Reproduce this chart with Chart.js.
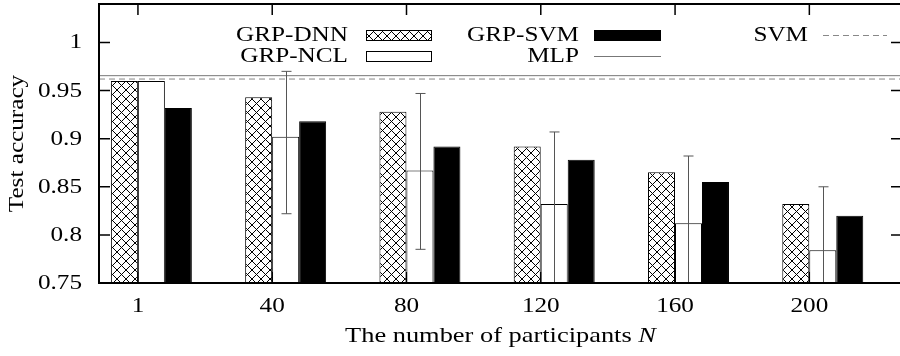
<!DOCTYPE html>
<html>
<head>
<meta charset="utf-8">
<script src="https://cdn.jsdelivr.net/npm/chart.js@4"></script>
<style>
  html, body { margin: 0; padding: 0; background: #fff; overflow: hidden; }
  #wrap { width: 900px; height: 356px; overflow: hidden; }
</style>
</head>
<body>
<div id="wrap"><canvas id="chart" width="904" height="356"></canvas></div>
<script>
// values
const participants = ['1', '40', '80', '120', '160', '200'];
const grpDnn = [0.960, 0.943, 0.928, 0.892, 0.865, 0.832];
const grpNcl = [0.960, 0.902, 0.867, 0.832, 0.812, 0.784];
const grpNclHigh = [0.960, 0.970, 0.947, 0.907, 0.882, 0.850];
const grpNclLow = [0.960, 0.822, 0.785, 0.745, 0.745, 0.745];
const grpSvm = [0.932, 0.918, 0.892, 0.878, 0.855, 0.820];
const mlpAcc = 0.9655;
const svmAcc = 0.962;
const yTicks = [0.75, 0.8, 0.85, 0.9, 0.95, 1];

const X_MIN = -0.29, X_MAX = 5.69;
const GROUP_SHIFT = 0.1;
const FONT = '"Liberation Serif", "Times New Roman", serif';
const SX = 1.2;      // the figure's lettering is wide
const TICK = 11;

function hatch() {
  const c = document.createElement('canvas');
  c.width = 9; c.height = 9;
  const g = c.getContext('2d');
  g.fillStyle = '#fff';
  g.fillRect(0, 0, 9, 9);
  g.strokeStyle = '#000';
  g.lineWidth = 1;
  g.beginPath();
  g.moveTo(-1, -1); g.lineTo(10, 10);
  g.moveTo(10, -1); g.lineTo(-1, 10);
  g.stroke();
  return g.createPattern(c, 'repeat');
}

const points = vals => vals.map((v, i) => ({ x: i + GROUP_SHIFT, y: v }));
const flat = v => [{ x: X_MIN, y: v }, { x: X_MAX, y: v }];

function font(size, italic) {
  return (italic ? 'italic ' : '') + size + 'px ' + FONT;
}

function drawText(ctx, text, x, y, opts) {
  const { align = 'center', size = 21, italic = false, rotate = 0 } = opts || {};
  ctx.save();
  ctx.translate(x, y);
  if (rotate) ctx.rotate(rotate);
  ctx.scale(SX, 1);
  ctx.font = font(size, italic);
  ctx.textAlign = align;
  ctx.textBaseline = 'alphabetic';
  ctx.fillStyle = '#000';
  ctx.fillText(text, 0, 0);
  ctx.restore();
}

// inward ticks + frame, gnuplot style
const framePlugin = {
  id: 'frame',
  beforeDatasetsDraw(chart) {
    const { ctx, chartArea: a, scales: { x, y } } = chart;
    ctx.save();
    ctx.strokeStyle = '#000';
    ctx.lineWidth = 1.5;
    ctx.beginPath();
    y.ticks.forEach(t => {
      const py = y.getPixelForValue(t.value);
      ctx.moveTo(a.left, py); ctx.lineTo(a.left + TICK, py);
      ctx.moveTo(a.right, py); ctx.lineTo(a.right - TICK, py);
    });
    x.ticks.forEach(t => {
      const px = x.getPixelForValue(t.value);
      ctx.moveTo(px, a.top); ctx.lineTo(px, a.top + TICK);
      ctx.moveTo(px, a.bottom); ctx.lineTo(px, a.bottom - TICK);
    });
    ctx.stroke();
    ctx.restore();
  },
  afterDraw(chart) {
    const { ctx, chartArea: a } = chart;
    ctx.save();
    ctx.strokeStyle = '#000';
    ctx.lineWidth = 2;
    ctx.strokeRect(a.left, a.top, a.right - a.left, a.bottom - a.top);
    ctx.restore();
  }
};

// error bars on GRP-NCL
const errorPlugin = {
  id: 'errbars',
  afterDatasetsDraw(chart) {
    const { ctx, chartArea: a, scales: { y } } = chart;
    const meta = chart.getDatasetMeta(1);
    ctx.save();
    ctx.beginPath();
    ctx.rect(a.left, a.top, a.right - a.left, a.bottom - a.top);
    ctx.clip();
    ctx.strokeStyle = '#555';
    ctx.lineWidth = 1;
    meta.data.forEach((bar, i) => {
      if (grpNclHigh[i] === grpNclLow[i]) return;
      const px = Math.round(bar.x) + 0.5;
      const hi = y.getPixelForValue(grpNclHigh[i]);
      const lo = y.getPixelForValue(grpNclLow[i]);
      ctx.beginPath();
      ctx.moveTo(px, hi); ctx.lineTo(px, lo);
      ctx.moveTo(px - 5, hi); ctx.lineTo(px + 5, hi);
      ctx.moveTo(px - 5, lo); ctx.lineTo(px + 5, lo);
      ctx.stroke();
    });
    ctx.restore();
  }
};

// tick labels and axis titles
const labelPlugin = {
  id: 'labels',
  afterDraw(chart) {
    const { ctx, chartArea: a, scales: { x, y } } = chart;
    y.ticks.forEach(t => {
      drawText(ctx, String(+t.value.toFixed(2)), a.left - 17, y.getPixelForValue(t.value) + 6, { align: 'right' });
    });
    x.ticks.forEach(t => {
      drawText(ctx, participants[t.value], x.getPixelForValue(t.value), 312);
    });

    drawText(ctx, 'Test accuracy', 23, (a.top + a.bottom) / 2, { rotate: -Math.PI / 2 });

    const main = 'The number of participants ';
    ctx.save();
    ctx.font = font(22);
    const w1 = ctx.measureText(main).width * SX;
    ctx.font = font(22, true);
    const w2 = ctx.measureText('N').width * SX;
    ctx.restore();
    const x0 = (a.left + a.right) / 2 - (w1 + w2) / 2;
    drawText(ctx, main, x0, 342, { align: 'left', size: 22 });
    drawText(ctx, 'N', x0 + w1, 342, { align: 'left', size: 22, italic: true });
  }
};

// key: text right-aligned, sample to its right, filled column by column
const legendCols = [
  { textRight: 348, x0: 366, x1: 432, items: [0, 1] },
  { textRight: 579, x0: 594, x1: 661, items: [2, 3] },
  { textRight: 808, x0: 823, x1: 887, items: [4] }
];
const legendRows = [35, 56];

const legendPlugin = {
  id: 'key',
  afterDraw(chart) {
    const { ctx } = chart;
    const ds = chart.data.datasets;
    legendCols.forEach(col => {
      col.items.forEach((k, r) => {
        const d = ds[k];
        const cy = legendRows[r];
        drawText(ctx, d.label, col.textRight, cy + 6, { align: 'right' });
        ctx.save();
        if (d.type === 'line') {
          ctx.strokeStyle = d.borderColor;
          ctx.lineWidth = 1;
          ctx.setLineDash(d.borderDash || []);
          ctx.beginPath();
          ctx.moveTo(col.x0, cy + 0.5); ctx.lineTo(col.x1, cy + 0.5);
          ctx.stroke();
        } else {
          ctx.fillStyle = d.backgroundColor;
          ctx.fillRect(col.x0, cy - 5, col.x1 - col.x0, 10);
          ctx.strokeStyle = '#000';
          ctx.lineWidth = 1;
          ctx.strokeRect(col.x0 + 0.5, cy - 4.5, col.x1 - col.x0 - 1, 10);
        }
        ctx.restore();
      });
    });
  }
};

new Chart(document.getElementById('chart'), {
  type: 'bar',
  data: {
    datasets: [
      { label: 'GRP-DNN', data: points(grpDnn), backgroundColor: hatch(), borderColor: '#000', borderWidth: 1 },
      { label: 'GRP-NCL', data: points(grpNcl), backgroundColor: '#fff', borderColor: '#000', borderWidth: 1 },
      { label: 'GRP-SVM', data: points(grpSvm), backgroundColor: '#000', borderColor: '#000', borderWidth: 1 },
      { label: 'MLP', type: 'line', data: flat(mlpAcc), borderColor: '#777', borderWidth: 1, pointRadius: 0 },
      { label: 'SVM', type: 'line', data: flat(svmAcc), borderColor: '#888', borderWidth: 1, borderDash: [6, 4], pointRadius: 0 }
    ]
  },
  options: {
    responsive: false,
    animation: false,
    devicePixelRatio: 1,
    layout: { padding: { top: 4, right: 2, left: 0, bottom: 0 } },
    datasets: { bar: { categoryPercentage: 0.603, barPercentage: 1 } },
    plugins: { legend: { display: false }, tooltip: { enabled: false } },
    scales: {
      x: {
        type: 'linear',
        min: X_MIN,
        max: X_MAX,
        offset: false,
        grid: { display: false },
        border: { display: false },
        ticks: { display: false },
        afterBuildTicks: s => { s.ticks = participants.map((_, i) => ({ value: i })); },
        afterFit: s => { s.height = 73; s.paddingLeft = 0; s.paddingRight = 0; }
      },
      y: {
        min: 0.75,
        max: 1.04,
        grid: { display: false },
        border: { display: false },
        ticks: { display: false },
        afterBuildTicks: s => { s.ticks = yTicks.map(v => ({ value: v })); },
        afterFit: s => { s.width = 99; s.paddingTop = 0; s.paddingBottom = 0; }
      }
    }
  },
  plugins: [framePlugin, errorPlugin, labelPlugin, legendPlugin]
});
</script>
</body>
</html>
